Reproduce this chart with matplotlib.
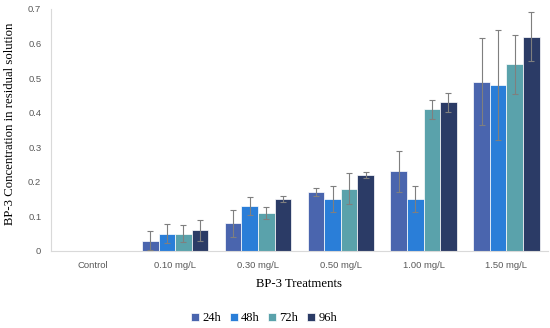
import matplotlib
matplotlib.use("Agg")
import matplotlib.pyplot as plt
import numpy as np

categories = ["Control", "0.10 mg/L", "0.30 mg/L", "0.50 mg/L", "1.00 mg/L", "1.50 mg/L"]
series_names = ["24h", "48h", "72h", "96h"]
v24 = [0.0, 0.03, 0.08, 0.17, 0.23, 0.49]
v48 = [0.0, 0.05, 0.13, 0.15, 0.15, 0.48]
v72 = [0.0, 0.05, 0.11, 0.18, 0.41, 0.54]
v96 = [0.0, 0.06, 0.15, 0.22, 0.43, 0.62]
e24 = [0.0, 0.027, 0.04, 0.012, 0.06, 0.127]
e48 = [0.0, 0.027, 0.025, 0.037, 0.037, 0.16]
e72 = [0.0, 0.025, 0.018, 0.045, 0.027, 0.086]
e96 = [0.0, 0.03, 0.008, 0.008, 0.027, 0.07]
colors = ["#4a65ae", "#2a7ed8", "#5aa2ab", "#2b3b66"]

values = [v24, v48, v72, v96]
errors = [e24, e48, e72, e96]

fig = plt.figure(figsize=(5.5, 3.28), dpi=100)
ax = fig.add_axes([0.0927, 0.2348, 0.9033, 0.7378])

x = np.arange(len(categories))
w = 0.2
for i, (vals, errs, c, name) in enumerate(zip(values, errors, colors, series_names)):
    pos = x + (i - 1.5) * w
    errs_plot = [e if v > 0 else np.nan for v, e in zip(vals, errs)]
    ax.bar(pos, vals, w, color=c, label=name, edgecolor="white", linewidth=0.5, zorder=2)
    ax.errorbar(pos, vals, yerr=errs_plot, fmt="none", ecolor="#7f7f7f",
                elinewidth=0.8, capsize=2.5, capthick=0.8, zorder=3)

ax.set_xlim(-0.5, len(categories) - 0.5)
ax.set_ylim(0, 0.7)
ax.set_yticks(np.arange(0, 0.71, 0.1))
ax.set_yticklabels(["0", "0.1", "0.2", "0.3", "0.4", "0.5", "0.6", "0.7"])
ax.set_xticks(x)
ax.set_xticklabels(categories)
ax.tick_params(axis="both", length=0, labelsize=6.8, labelcolor="#595959", pad=7,
               labelfontfamily="Liberation Sans")
for s in ["top", "right"]:
    ax.spines[s].set_visible(False)
for s in ["left", "bottom"]:
    ax.spines[s].set_color("#d9d9d9")
    ax.spines[s].set_linewidth(0.8)

ax.set_xlabel("BP-3 Treatments", fontsize=9.2, family="Liberation Serif", labelpad=6)
ax.set_ylabel("BP-3 Concentration in residual solution", fontsize=9.2,
              family="Liberation Serif")
ax.yaxis.set_label_coords(-0.071, 0.525)

leg = fig.legend(loc="center", bbox_to_anchor=(0.48, 0.03), ncol=4, frameon=False,
                 prop={"family": "Liberation Serif", "size": 9},
                 handlelength=0.65, handleheight=0.65, handletextpad=0.25, columnspacing=0.7)

fig.savefig("out.png", dpi=100)
